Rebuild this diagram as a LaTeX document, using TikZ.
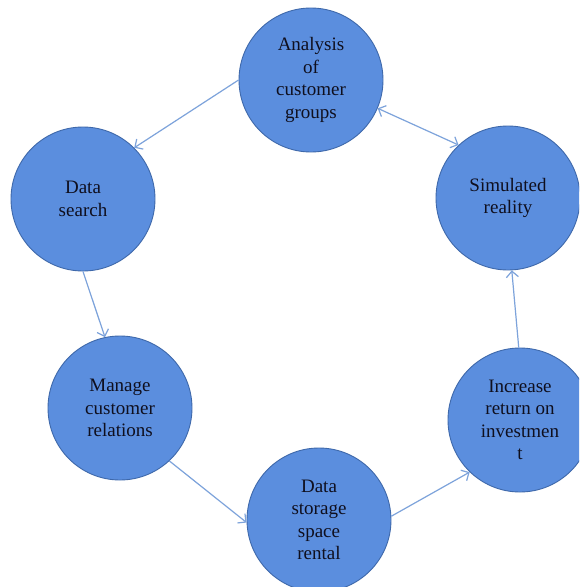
\documentclass[tikz,border=0pt]{standalone}
\usepackage{fontspec}
\setmainfont{Liberation Serif}
\usepackage{tikz}
\usetikzlibrary{arrows.meta}
\definecolor{CYCfill}{RGB}{91,142,222}
\definecolor{CYCedge}{RGB}{62,104,170}
\definecolor{CYCarrow}{RGB}{125,163,219}
\definecolor{CYCtext}{RGB}{15,15,30}
\tikzset{
  stage/.style={circle, draw=CYCedge, line width=0.9pt, fill=CYCfill, minimum size=144pt,
    inner sep=0pt, align=center, text=CYCtext, font=\fontsize{19}{22.5}\selectfont},
  flow/.style={-{Straight Barb[length=6pt,width=12pt]}, line width=1.2pt, CYCarrow},
  both/.style={flow, {Straight Barb[length=6pt,width=12pt]}-{Straight Barb[length=6pt,width=12pt]}},
}
\begin{document}
\begin{tikzpicture}[x=1pt, y=-1pt]
    \clip (0,0) rectangle (579,587);
    \fill[white] (0,0) rectangle (579,587);
    \node[stage] (groups) at (311,80) {Analysis\\of\\customer\\groups};
    \node[stage] (search) at (83,199) {Data\\search};
    \node[stage] (relations) at (120,408) {Manage\\customer\\relations};
    \node[stage] (storage) at (319,520) {Data\\storage\\space\\rental};
    \node[stage] (roi) at (520,420) {Increase\\return on\\investmen\\t};
    \node[stage] (reality) at (508,198) {Simulated\\reality};
    \draw[flow] (groups.180)--(search.45); \draw[flow] (search.270)--(relations.102);
    \draw[flow] (relations.313)--(storage.182); \draw[flow] (storage.3)--(roi.226);
    \draw[flow] (roi.91)--(reality.273); \draw[both] (groups.337)--(reality.133);
  \end{tikzpicture}
\end{document}
